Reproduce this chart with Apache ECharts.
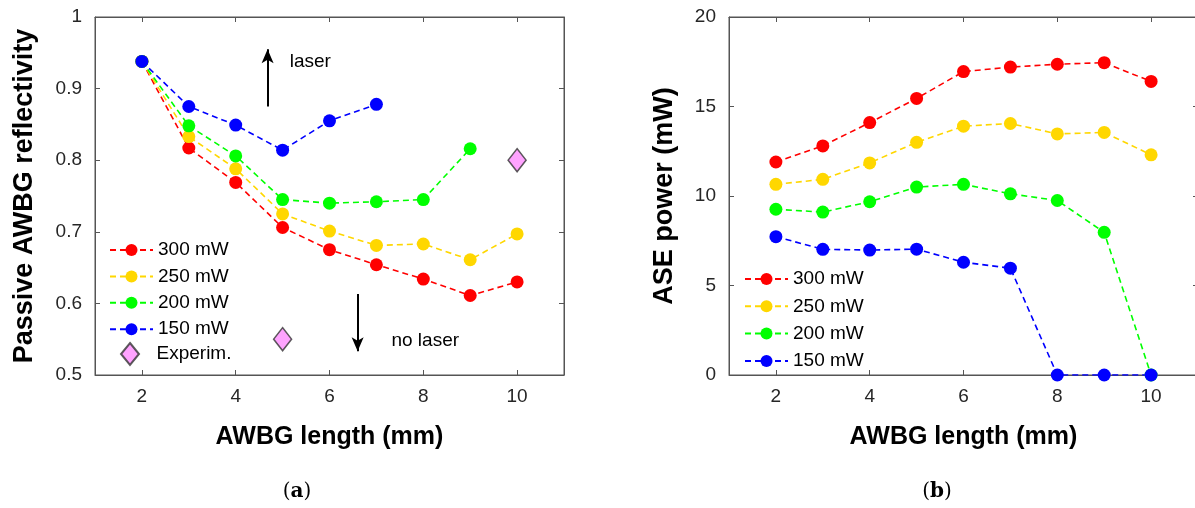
<!DOCTYPE html>
<html>
<head>
<meta charset="utf-8">
<script src="https://cdn.jsdelivr.net/npm/echarts@6/dist/echarts.min.js"></script>
<style>
html, body { margin: 0; padding: 0; background: #fff; overflow: hidden; }
#main { width: 1199px; height: 508px; }
</style>
</head>
<body>
<div id="main"></div>
<script>
// AWBG length (mm)
var lengths = [2, 3, 4, 5, 6, 7, 8, 9, 10];
var xTicks = [2, 4, 6, 8, 10];
var reflTicks = [0.5, 0.6, 0.7, 0.8, 0.9, 1];
var aseTicks = [0, 5, 10, 15, 20];

// (a) passive AWBG reflectivity
var refl300 = [0.938, 0.817, 0.769, 0.706, 0.675, 0.654, 0.634, 0.611, 0.630];
var refl250 = [0.938, 0.833, 0.788, 0.725, 0.701, 0.681, 0.683, 0.661, 0.697];
var refl200 = [0.938, 0.848, 0.806, 0.745, 0.740, 0.742, 0.745, 0.816];
var refl150 = [0.938, 0.875, 0.849, 0.814, 0.855, 0.878];
var expLength = [5, 10];
var expRefl = [0.55, 0.80];

// (b) ASE power (mW)
var ase300 = [11.9, 12.8, 14.1, 15.45, 16.95, 17.2, 17.36, 17.45, 16.4];
var ase250 = [10.65, 10.93, 11.85, 13.0, 13.9, 14.05, 13.47, 13.55, 12.3];
var ase200 = [9.26, 9.1, 9.68, 10.5, 10.65, 10.12, 9.75, 7.97, 0];
var ase150 = [7.73, 7.02, 6.98, 7.03, 6.3, 5.97, 0, 0, 0];

var powers = ['300 mW', '250 mW', '200 mW', '150 mW'];
var colors = ['#ff0000', '#ffd700', '#00ff00', '#0000ff'];

var FONT = "'Liberation Sans', Arial, sans-serif";
var TICK_SIZE = 19;
var AXIS_COLOR = '#555';

function pairs(ys) {
	return ys.map(function(y, i) { return [lengths[i], y]; });
}

function lineSeries(name, color, ys, idx) {
	return {
		name: name,
		type: 'line',
		xAxisIndex: idx * 2,
		yAxisIndex: idx * 2,
		data: pairs(ys),
		symbol: 'circle',
		symbolSize: 13,
		itemStyle: { color: color },
		lineStyle: { color: color, width: 1.6, type: [6, 4] }
	};
}

function ticks(values) {
	return { show: true, inside: true, length: 5, customValues: values, lineStyle: { color: AXIS_COLOR } };
}

function mainX(grid, name) {
	return {
		type: 'value', gridIndex: grid, min: 1, max: 11, position: 'bottom',
		name: name, nameLocation: 'middle', nameGap: 50,
		nameTextStyle: { fontFamily: FONT, fontSize: 25, fontWeight: 'bold', color: '#000' },
		axisLine: { show: true, onZero: false, lineStyle: { color: AXIS_COLOR, width: 1 } },
		axisTick: ticks(xTicks),
		axisLabel: { customValues: xTicks, fontFamily: FONT, fontSize: TICK_SIZE, color: '#262626', margin: 12 },
		splitLine: { show: false }
	};
}

function topX(grid) {
	return {
		type: 'value', gridIndex: grid, min: 1, max: 11, position: 'top',
		axisLine: { show: true, onZero: false, lineStyle: { color: AXIS_COLOR, width: 1 } },
		axisTick: ticks(xTicks),
		axisLabel: { show: false },
		splitLine: { show: false }
	};
}

function mainY(grid, name, min, max, values, gap) {
	return {
		type: 'value', gridIndex: grid, min: min, max: max, position: 'left',
		name: name, nameLocation: 'middle', nameGap: gap,
		nameTextStyle: { fontFamily: FONT, fontSize: 27, fontWeight: 'bold', color: '#000' },
		axisLine: { show: true, onZero: false, lineStyle: { color: AXIS_COLOR, width: 1 } },
		axisTick: ticks(values),
		axisLabel: { customValues: values, fontFamily: FONT, fontSize: TICK_SIZE, color: '#262626', margin: 13 },
		splitLine: { show: false }
	};
}

function rightY(grid, min, max, values) {
	return {
		type: 'value', gridIndex: grid, min: min, max: max, position: 'right',
		axisLine: { show: true, onZero: false, lineStyle: { color: AXIS_COLOR, width: 1 } },
		axisTick: ticks(values),
		axisLabel: { show: false },
		splitLine: { show: false }
	};
}

var series = [];
var reflSets = [refl300, refl250, refl200, refl150];
var aseSets = [ase300, ase250, ase200, ase150];
for (var i = 0; i < 4; i++) series.push(lineSeries(powers[i], colors[i], reflSets[i], 0));
for (var j = 0; j < 4; j++) series.push(lineSeries(powers[j], colors[j], aseSets[j], 1));

// experimental points + laser / no laser annotations
series.push({
	name: 'Experim.',
	type: 'scatter',
	xAxisIndex: 0,
	yAxisIndex: 0,
	data: expLength.map(function(x, i) { return [x, expRefl[i]]; }),
	symbol: 'diamond',
	symbolSize: [18, 23],
	itemStyle: { color: '#ff8cff', borderColor: '#333', borderWidth: 1.5 },
	markLine: {
		silent: true,
		symbol: ['none', 'arrow'],
		symbolSize: [9, 14],
		label: { show: false },
		lineStyle: { color: '#000', width: 2, type: 'solid' },
		data: [
			[{ coord: [4.68, 0.875] }, { coord: [4.68, 0.955] }],
			[{ coord: [6.6, 0.613] }, { coord: [6.6, 0.533] }]
		]
	},
	markPoint: {
		silent: true,
		symbol: 'rect',
		symbolSize: 1,
		itemStyle: { color: 'rgba(0,0,0,0)' },
		label: {
			show: true, position: 'right', distance: 0,
			fontFamily: FONT, fontSize: 19, color: '#000',
			formatter: function(p) { return p.name; }
		},
		data: [
			{ name: 'laser', coord: [5.14, 0.937] },
			{ name: 'no laser', coord: [7.31, 0.548] }
		]
	}
});

var legendText = { fontFamily: FONT, fontSize: 19, color: '#000', lineHeight: 20 };

function subLabel(x, letter) {
	return {
		type: 'text', x: x, y: 492,
		style: {
			text: '{p|(}{b|' + letter + '}{p|)}', align: 'center', verticalAlign: 'middle',
			rich: {
				p: { fontFamily: "'DejaVu Serif', serif", fontSize: 20, fill: '#000' },
				b: { fontFamily: "'DejaVu Serif', serif", fontSize: 20, fontWeight: 'bold', fill: '#000' }
			}
		}
	};
}

var chart = echarts.init(document.getElementById('main'));
chart.setOption({
	animation: false,
	backgroundColor: '#fff',
	grid: [
		{ left: 95, top: 17, width: 469, height: 358, show: true, borderColor: AXIS_COLOR, borderWidth: 1 },
		{ left: 729, top: 17, width: 469, height: 358, show: true, borderColor: AXIS_COLOR, borderWidth: 1 }
	],
	xAxis: [mainX(0, 'AWBG length (mm)'), topX(0), mainX(1, 'AWBG length (mm)'), topX(1)],
	yAxis: [
		mainY(0, 'Passive AWBG reflectivity', 0.5, 1, reflTicks, 57),
		rightY(0, 0.5, 1, reflTicks),
		mainY(1, 'ASE power (mW)', 0, 20, aseTicks, 51),
		rightY(1, 0, 20, aseTicks)
	],
	legend: [
		{
			orient: 'vertical', left: 109, top: 240, padding: 0,
			itemWidth: 43, itemHeight: 15, itemGap: 6.4,
			textStyle: legendText,
			data: powers
		},
		{
			orient: 'vertical', left: 120, top: 342, padding: 0,
			itemWidth: 43, itemHeight: 22,
			textStyle: legendText,
			data: [{ name: 'Experim.', icon: 'path://M9,0 L18,11 L9,22 L0,11 Z' }]
		},
		{
			orient: 'vertical', left: 744, top: 269, padding: 0,
			itemWidth: 43, itemHeight: 15, itemGap: 7.3,
			textStyle: legendText,
			data: powers
		}
	],
	graphic: [subLabel(297, 'a'), subLabel(937, 'b')],
	series: series
});
</script>
</body>
</html>
